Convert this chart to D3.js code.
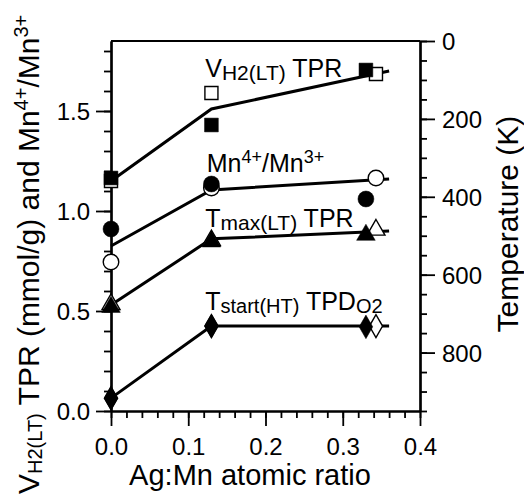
<!DOCTYPE html>
<html>
<head>
<meta charset="utf-8">
<script src="https://cdn.jsdelivr.net/npm/d3@7"></script>
<style>
  body { margin: 0; background: #fff; }
  text { font-family: "Liberation Sans", Arial, sans-serif; fill: #000; }
</style>
</head>
<body>
<div class="chart"></div>
<script>
// x values (Ag:Mn atomic ratio), open symbols sit a little to the right
var ratioFilled = [0, 0.13, 0.33]
var ratioOpen = [0, 0.13, 0.343]
var fitRatio = [0, 0.13, 0.36]

// left axis series
var vh2Filled = [1.165, 1.43, 1.705]
var vh2Open = [1.15, 1.59, 1.685]
var vh2Fit = [1.15, 1.51, 1.70]
var mnFilled = [0.91, 1.135, 1.06]
var mnOpen = [0.745, 1.115, 1.165]
var mnFit = [0.825, 1.105, 1.16]

// right axis series (K)
var tmaxFilled = [683, 515, 498]
var tmaxOpen = [676, 512, 485]
var tmaxFit = [678, 508, 488]
var tstartFilled = [917, 732, 734]
var tstartOpen = [917, 732, 732]
var tstartFit = [917, 732, 732]

var xMajor = [0, 0.1, 0.2, 0.3, 0.4]
var xMinor = [0, 0.02, 0.04, 0.06, 0.08, 0.1, 0.12, 0.14, 0.16, 0.18, 0.2, 0.22, 0.24, 0.26, 0.28, 0.3, 0.32, 0.34, 0.36, 0.38, 0.4]
var yLeftMajor = [0, 0.5, 1.0, 1.5]
var yLeftMinor = [0, 0.1, 0.2, 0.3, 0.4, 0.5, 0.6, 0.7, 0.8, 0.9, 1.0, 1.1, 1.2, 1.3, 1.4, 1.5, 1.6, 1.7, 1.8]
var yRightMajor = [0, 200, 400, 600, 800]
var yRightMinor = [0, 50, 100, 150, 200, 250, 300, 350, 400, 450, 500, 550, 600, 650, 700, 750, 800, 850, 900, 950]

var margin = { top: 41, right: 104, bottom: 85, left: 111 },
    width = 524 - margin.left - margin.right,
    height = 496 - margin.top - margin.bottom;

var root = d3.select(".chart")
    .append("svg")
    .attr("width", 524)
    .attr("height", 496)

var svg = root.append("g")
    .attr("transform", "translate(" + margin.left + "," + margin.top + ")");

var x = d3.scaleLinear().domain([0, 0.4]).range([0, width])
var yL = d3.scaleLinear().domain([0, 1.85]).range([height, 0])
var yR = d3.scaleLinear().domain([0, 950]).range([0, height])

function styleAxis(g) {
    g.selectAll("path").attr("stroke", "#000").attr("stroke-width", 2.2)
    g.selectAll("line").attr("stroke", "#000").attr("stroke-width", 1.8)
    g.selectAll("text").style("font-size", "24px").attr("fill", "#000")
}

// top frame line
svg.append("line")
    .attr("x1", 0).attr("x2", width)
    .attr("y1", 0).attr("y2", 0)
    .attr("stroke", "#000").attr("stroke-width", 2)

// minor ticks first
svg.append("g")
    .call(d3.axisLeft(yL).tickValues(yLeftMinor).tickSize(7).tickSizeOuter(0).tickFormat(""))
    .call(styleAxis)
svg.append("g")
    .attr("transform", "translate(0," + height + ")")
    .call(d3.axisBottom(x).tickValues(xMinor).tickSize(7).tickSizeOuter(0).tickFormat(""))
    .call(styleAxis)
svg.append("g")
    .attr("transform", "translate(" + width + ",0)")
    .call(d3.axisRight(yR).tickValues(yRightMinor).tickSize(7).tickSizeOuter(0).tickFormat(""))
    .call(styleAxis)

// major ticks with labels
svg.append("g")
    .call(d3.axisLeft(yL).tickValues(yLeftMajor).tickSize(15).tickSizeOuter(0).tickPadding(6).tickFormat(d3.format(".1f")))
    .call(styleAxis)
    .call(g => g.selectAll("text").attr("dy", "0.36em"))
svg.append("g")
    .attr("transform", "translate(0," + height + ")")
    .call(d3.axisBottom(x).tickValues(xMajor).tickSize(15).tickSizeOuter(0).tickPadding(12).tickFormat(d3.format(".1f")))
    .call(styleAxis)
svg.append("g")
    .attr("transform", "translate(" + width + ",0)")
    .call(d3.axisRight(yR).tickValues(yRightMajor).tickSize(15).tickSizeOuter(0).tickPadding(7))
    .call(styleAxis)
    .call(g => g.selectAll("text").attr("dy", "0.36em"))

// fit lines
function drawFit(vals, scale) {
    var pts = fitRatio.map(function (r, i) { return [x(r), scale(vals[i])] })
    svg.append("path")
        .attr("d", d3.line()(pts))
        .attr("fill", "none")
        .attr("stroke", "#000")
        .attr("stroke-width", 3)
}
drawFit(vh2Fit, yL)
drawFit(mnFit, yL)
drawFit(tmaxFit, yR)
drawFit(tstartFit, yR)

// symbols
var symSquare = d3.symbol().type(d3.symbolSquare)
var symCircle = d3.symbol().type(d3.symbolCircle)
var symTriangle = d3.symbol().type(d3.symbolTriangle)
var symDiamond = d3.symbol().type(d3.symbolDiamond)

function drawMarks(xs, vals, scale, sym, size, filled) {
    svg.append("g")
        .selectAll("path")
        .data(vals)
        .join("path")
        .attr("transform", function (d, i) { return "translate(" + x(xs[i]) + "," + scale(d) + ")" })
        .attr("d", sym.size(size)())
        .attr("fill", filled ? "#000" : "#fff")
        .attr("stroke", "#000")
        .attr("stroke-width", filled ? 0.5 : 1.4)
}

drawMarks(ratioOpen, vh2Open, yL, symSquare, 170, false)
drawMarks(ratioOpen, mnOpen, yL, symCircle, 190, false)
drawMarks(ratioOpen, tmaxOpen, yR, symTriangle, 140, false)
drawMarks(ratioOpen, tstartOpen, yR, symDiamond, 150, false)

drawMarks(ratioFilled, vh2Filled, yL, symSquare, 190, true)
drawMarks(ratioFilled, mnFilled, yL, symCircle, 200, true)
drawMarks(ratioFilled, tmaxFilled, yR, symTriangle, 150, true)
drawMarks(ratioFilled, tstartFilled, yR, symDiamond, 160, true)

// text with sub / superscript pieces: [text, "n" | "sub" | "sup"]
function richText(sel, parts, big, small, subShift, supShift) {
    var shift = 0
    parts.forEach(function (p) {
        var t = sel.append("tspan").text(p[0])
        var target = 0
        if (p[1] == "sub") {
            t.style("font-size", small + "px")
            target = subShift
        } else if (p[1] == "sup") {
            t.style("font-size", small + "px")
            target = -supShift
        } else {
            t.style("font-size", big + "px")
        }
        t.attr("dy", target - shift)
        shift = target
    })
}

// series labels
richText(svg.append("text").attr("x", x(0.122)).attr("y", 36),
    [["V", "n"], ["H2(LT)", "sub"], [" TPR", "n"]], 25, 21, 3, 9)
richText(svg.append("text").attr("x", x(0.124)).attr("y", 131),
    [["Mn", "n"], ["4+", "sup"], ["/Mn", "n"], ["3+", "sup"]], 25, 18, 3, 9)
richText(svg.append("text").attr("x", x(0.122)).attr("y", 186),
    [["T", "n"], ["max(LT)", "sub"], [" TPR", "n"]], 25, 21, 3, 9)
richText(svg.append("text").attr("x", x(0.122)).attr("y", 269),
    [["T", "n"], ["start(HT)", "sub"], [" TPD", "n"], ["O2", "sub"]], 25, 20, 3, 9)

// axis titles
root.append("text")
    .attr("x", 250)
    .attr("y", 485)
    .attr("text-anchor", "middle")
    .style("font-size", "29px")
    .text("Ag:Mn atomic ratio")

root.append("text")
    .attr("transform", "translate(518,224) rotate(-90)")
    .attr("text-anchor", "middle")
    .style("font-size", "30px")
    .text("Temperature (K)")

richText(root.append("text")
    .attr("transform", "translate(39,494) rotate(-90)")
    .attr("text-anchor", "start"),
    [["V", "n"], ["H2(LT)", "sub"], [" TPR (mmol/g) and Mn", "n"], ["4+", "sup"], ["/Mn", "n"], ["3+", "sup"]], 30, 20, 3, 11)
</script>
</body>
</html>
